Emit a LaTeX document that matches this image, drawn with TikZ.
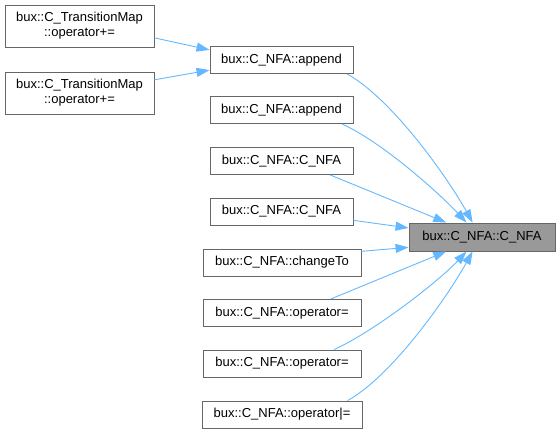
\documentclass[tikz,border=0pt]{standalone}
\usepackage{fontspec}
\setmainfont{Liberation Sans}
\usetikzlibrary{arrows.meta}
\definecolor{callblue}{HTML}{63B8FF}
\definecolor{boxgray}{HTML}{666666}
\definecolor{mainfill}{HTML}{999999}

\begin{document}
\begin{tikzpicture}[x=1pt, y=-1pt, >={Triangle[length=13pt, width=9pt]}]
	\tikzstyle{func} = [draw=boxgray, line width=0.9pt, rectangle, fill=white, inner sep=0pt, minimum height=27pt, align=center, font=\fontsize{13}{15}\selectfont]
	\tikzstyle{call} = [->, draw=callblue, line width=0.9pt]
	
	\useasboundingbox (0, 0) rectangle (560, 433);
	
	\node[func, minimum width=149pt, minimum height=42pt] at (79.5, 26)  (tm1) {bux::C\_TransitionMap\\::operator+=};
	\node[func, minimum width=149pt, minimum height=42pt] at (79.5, 93)  (tm2) {bux::C\_TransitionMap\\::operator+=};
	
	\node[func, minimum width=143pt] at (281.5, 60)    (app1)  {bux::C\_NFA::append};
	\node[func, minimum width=143pt] at (281.5, 110)   (app2)  {bux::C\_NFA::append};
	\node[func, minimum width=143pt] at (281.5, 161)   (ctor1) {bux::C\_NFA::C\_NFA};
	\node[func, minimum width=143pt] at (281.5, 211.5) (ctor2) {bux::C\_NFA::C\_NFA};
	\node[func, minimum width=158pt] at (282, 262.5)   (chg)   {bux::C\_NFA::changeTo};
	\node[func, minimum width=158pt] at (282, 313)     (asg1)  {bux::C\_NFA::operator=};
	\node[func, minimum width=158pt] at (282, 363.5)   (asg2)  {bux::C\_NFA::operator=};
	\node[func, minimum width=160pt] at (282, 414.5)   (asgor) {bux::C\_NFA::operator|=};
	
	\node[func, fill=mainfill, minimum width=146pt, minimum height=28pt] at (482, 237) (nfa) {bux::C\_NFA::C\_NFA};
	
	\draw[call] (tm1.-9) -- (app1.172);
	\draw[call] (tm2.10) -- (app1.188);
	
	\draw[call] (app1.-12) .. controls +(45, 25) and +(-25, -45) .. (nfa.123);
	\draw[call] (app2.-13) .. controls +(40, 18) and +(-28, -30) .. (nfa.137);
	\draw[call] (ctor1.-16) -- (nfa.158);
	\draw[call] (ctor2.-7) -- (nfa.173);
	\draw[call] (chg.8) -- (nfa.188);
	\draw[call] (asg1.16) -- (nfa.202);
	\draw[call] (asg2.15) .. controls +(40, -18) and +(-28, 30) .. (nfa.223);
	\draw[call] (asgor.12) .. controls +(45, -25) and +(-25, 45) .. (nfa.237);
\end{tikzpicture}
\end{document}
